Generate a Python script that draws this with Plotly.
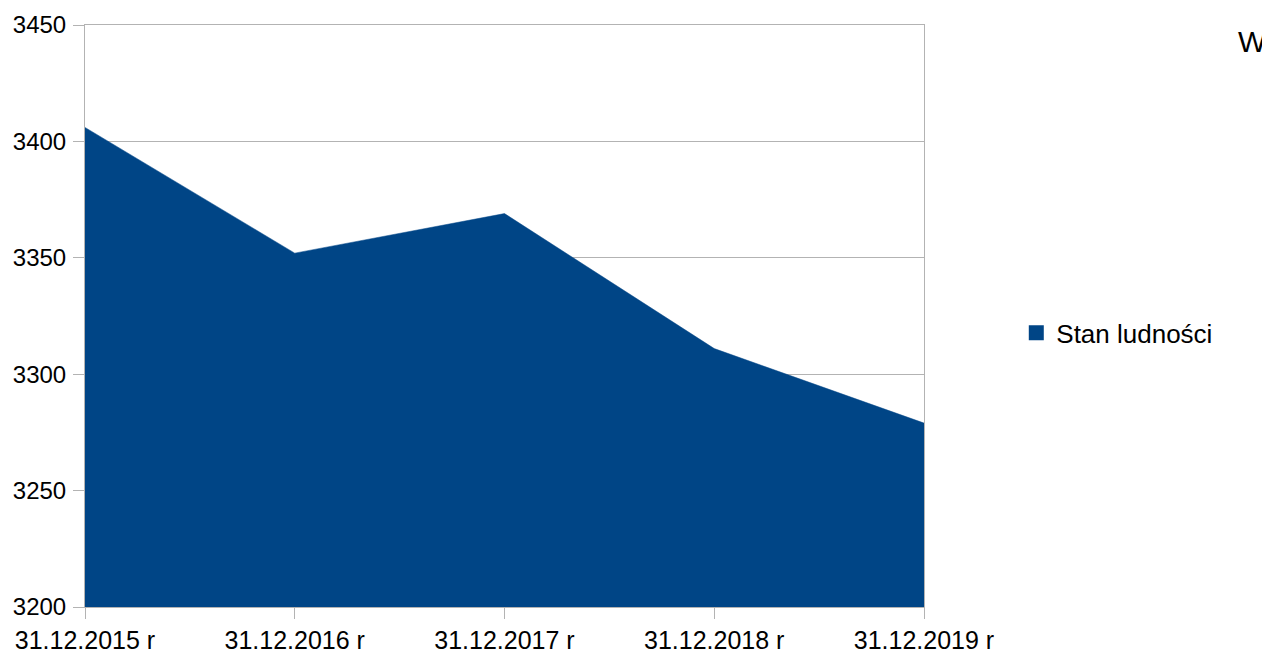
import plotly.graph_objects as go

categories = ["31.12.2015 r", "31.12.2016 r", "31.12.2017 r", "31.12.2018 r", "31.12.2019 r"]
values = [3406, 3352, 3369, 3311, 3279]
series_name = "Stan ludności"
y_ticks = [3200, 3250, 3300, 3350, 3400, 3450]

color = "#004586"
grid = "#b3b3b3"
font = "Liberation Sans, Arial, sans-serif"

fig = go.Figure()
# area series
fig.add_trace(go.Scatter(
    x=categories, y=values, name=series_name, legendgroup="s",
    mode="lines", fill="tozeroy", fillcolor=color,
    line=dict(color=color, width=0.5), showlegend=False,
))
# legend-only entry with a square key
fig.add_trace(go.Scatter(
    x=[None], y=[None], name=series_name, legendgroup="s",
    mode="markers", marker=dict(symbol="square", size=15, color=color),
    showlegend=True,
))

fig.update_layout(
    width=1262, height=645,
    margin=dict(l=77, r=346, t=17, b=46, autoexpand=False),
    paper_bgcolor="white", plot_bgcolor="white",
    font=dict(family=font, size=24, color="#000000"),
    showlegend=True,
    legend=dict(x=1.11, y=0.471, xanchor="left", yanchor="middle",
                font=dict(size=26), itemwidth=30, bgcolor="rgba(0,0,0,0)"),
    xaxis=dict(
        type="category", range=[0, len(categories) - 1], automargin=False,
        showgrid=False, showline=True, linecolor=grid, linewidth=1, mirror=True,
        ticks="outside", ticklen=11, tickcolor=grid, tickwidth=1,
        tickfont=dict(size=25), zeroline=False,
    ),
    yaxis=dict(
        range=[3200, 3450], tickvals=y_ticks, automargin=False,
        showgrid=True, gridcolor=grid, gridwidth=1,
        showline=True, linecolor=grid, linewidth=1, mirror=True,
        ticks="outside", ticklen=11, tickcolor=grid, tickwidth=1,
        tickfont=dict(size=24), zeroline=False, ticklabelstandoff=2,
    ),
    annotations=[dict(text="W", xref="paper", yref="paper", x=1.391, y=0.9725,
                      xanchor="center", yanchor="middle", showarrow=False,
                      font=dict(size=30, family=font))],
)

fig.write_html("out.html")
